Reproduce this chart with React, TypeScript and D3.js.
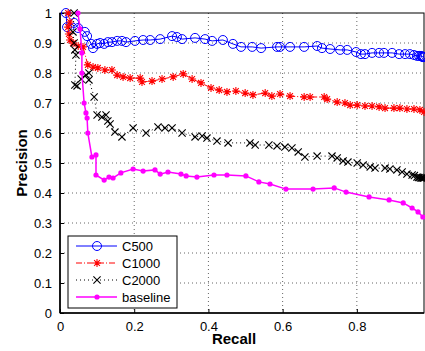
import { useRef, useEffect } from 'react';
import * as d3 from 'd3';

// recall / precision pairs
const c500: [number, number][] = [
  [0.016, 1.0], [0.019, 0.953], [0.038, 0.967], [0.049, 0.95], [0.067, 0.937], [0.073, 0.923],
  [0.084, 0.897], [0.089, 0.883], [0.1, 0.897], [0.108, 0.9], [0.119, 0.897], [0.129, 0.903],
  [0.14, 0.903], [0.154, 0.907], [0.167, 0.907], [0.178, 0.903], [0.202, 0.907], [0.224, 0.91],
  [0.243, 0.91], [0.27, 0.913], [0.302, 0.923], [0.315, 0.92], [0.329, 0.913], [0.364, 0.917],
  [0.391, 0.913], [0.41, 0.907], [0.439, 0.91], [0.466, 0.897], [0.488, 0.887], [0.518, 0.887],
  [0.542, 0.883], [0.585, 0.887], [0.593, 0.887], [0.62, 0.887], [0.658, 0.887], [0.693, 0.89],
  [0.706, 0.883], [0.728, 0.88], [0.755, 0.877], [0.774, 0.877], [0.798, 0.87], [0.811, 0.863],
  [0.822, 0.863], [0.841, 0.867], [0.86, 0.867], [0.873, 0.867], [0.895, 0.867], [0.914, 0.863],
  [0.93, 0.863], [0.943, 0.863], [0.954, 0.86], [0.962, 0.857], [0.968, 0.857], [0.973, 0.857],
  [0.975, 0.855], [0.977, 0.855], [0.978, 0.853], [0.98, 0.853], [0.981, 0.853],
];

const c1000: [number, number][] = [
  [0.022, 1.0], [0.027, 0.97], [0.022, 0.953], [0.024, 0.93], [0.027, 0.91], [0.035, 0.9],
  [0.049, 0.89], [0.062, 0.887], [0.075, 0.827], [0.089, 0.82], [0.102, 0.817], [0.121, 0.81],
  [0.14, 0.81], [0.154, 0.793], [0.17, 0.787], [0.189, 0.783], [0.216, 0.783], [0.221, 0.77],
  [0.248, 0.773], [0.275, 0.78], [0.305, 0.787], [0.332, 0.797], [0.356, 0.78], [0.38, 0.767],
  [0.407, 0.75], [0.429, 0.743], [0.45, 0.737], [0.474, 0.74], [0.499, 0.733], [0.52, 0.727],
  [0.553, 0.733], [0.571, 0.723], [0.593, 0.73], [0.62, 0.723], [0.658, 0.72], [0.674, 0.72],
  [0.712, 0.72], [0.72, 0.713], [0.747, 0.703], [0.768, 0.7], [0.782, 0.693], [0.801, 0.693],
  [0.822, 0.69], [0.841, 0.69], [0.86, 0.687], [0.876, 0.683], [0.9, 0.683], [0.916, 0.683],
  [0.935, 0.68], [0.954, 0.68], [0.97, 0.677], [0.981, 0.67],
];

const c2000: [number, number][] = [
  [0.038, 1.0], [0.035, 0.937], [0.038, 0.9], [0.04, 0.877], [0.043, 0.86], [0.04, 0.76],
  [0.046, 0.757], [0.057, 0.78], [0.07, 0.793], [0.078, 0.8], [0.078, 0.777], [0.092, 0.72],
  [0.1, 0.66], [0.113, 0.653], [0.124, 0.66], [0.129, 0.64], [0.135, 0.63], [0.148, 0.603],
  [0.167, 0.587], [0.197, 0.617], [0.232, 0.6], [0.264, 0.62], [0.283, 0.617], [0.302, 0.617],
  [0.329, 0.6], [0.364, 0.587], [0.383, 0.59], [0.396, 0.583], [0.423, 0.573], [0.453, 0.567],
  [0.512, 0.567], [0.526, 0.56], [0.563, 0.56], [0.585, 0.557], [0.606, 0.553], [0.625, 0.55],
  [0.642, 0.537], [0.66, 0.52], [0.693, 0.523], [0.733, 0.523], [0.747, 0.517], [0.763, 0.507],
  [0.776, 0.503], [0.801, 0.5], [0.817, 0.493], [0.836, 0.487], [0.849, 0.483], [0.876, 0.483],
  [0.889, 0.48], [0.908, 0.477], [0.922, 0.47], [0.935, 0.463], [0.949, 0.46], [0.955, 0.458],
  [0.962, 0.453], [0.966, 0.452], [0.97, 0.452], [0.973, 0.45], [0.976, 0.45], [0.979, 0.45],
  [0.981, 0.45],
];

const baseline: [number, number][] = [
  [0.0485, 1.0], [0.054, 0.947], [0.059, 0.867], [0.059, 0.8], [0.065, 0.7], [0.07, 0.667],
  [0.073, 0.65], [0.075, 0.6], [0.086, 0.52], [0.097, 0.527], [0.097, 0.46], [0.119, 0.443],
  [0.132, 0.453], [0.143, 0.45], [0.164, 0.467], [0.197, 0.48], [0.224, 0.473], [0.256, 0.477],
  [0.27, 0.463], [0.291, 0.47], [0.326, 0.463], [0.34, 0.457], [0.369, 0.453], [0.415, 0.46],
  [0.45, 0.46], [0.501, 0.457], [0.536, 0.437], [0.566, 0.43], [0.609, 0.413], [0.682, 0.413],
  [0.739, 0.417], [0.771, 0.403], [0.833, 0.387], [0.887, 0.377], [0.925, 0.367], [0.949, 0.35],
  [0.965, 0.337], [0.978, 0.32],
];

const xTicks = [0, 0.2, 0.4, 0.6, 0.8];
const yTicks = [0, 0.1, 0.2, 0.3, 0.4, 0.5, 0.6, 0.7, 0.8, 0.9, 1];
const seriesNames = ['C500', 'C1000', 'C2000', 'baseline'];

const FONT = '"Liberation Sans", Arial, Helvetica, sans-serif';

type Marker = 'circle' | 'star' | 'x' | 'dot';

export default function App() {
  const svgRef = useRef<SVGSVGElement>(null);

  useEffect(() => {
    if (!svgRef.current) return;
    const svg = d3.select(svgRef.current);
    svg.selectAll('*').remove();

    const width = 425;
    const height = 351;
    const margin = { top: 13, right: 1, bottom: 38, left: 60 };
    const innerWidth = width - margin.left - margin.right;
    const innerHeight = height - margin.top - margin.bottom;

    svg.attr('width', width).attr('height', height);
    const g = svg.append('g').attr('transform', `translate(${margin.left},${margin.top})`);

    const x = d3.scaleLinear().domain([0, 0.981]).range([0, innerWidth]);
    const y = d3.scaleLinear().domain([0, 1]).range([innerHeight, 0]);

    // dotted grid
    g.append('g')
      .selectAll('line')
      .data(xTicks.slice(1))
      .join('line')
      .attr('x1', (d) => x(d)).attr('x2', (d) => x(d))
      .attr('y1', 0).attr('y2', innerHeight)
      .attr('stroke', '#666').attr('stroke-width', 1).attr('stroke-dasharray', '1,3');
    g.append('g')
      .selectAll('line')
      .data(yTicks.slice(1, -1))
      .join('line')
      .attr('x1', 0).attr('x2', innerWidth)
      .attr('y1', (d) => y(d)).attr('y2', (d) => y(d))
      .attr('stroke', '#666').attr('stroke-width', 1).attr('stroke-dasharray', '1,3');

    // axes (inward ticks, matlab style)
    const xAxis = g.append('g')
      .attr('transform', `translate(0,${innerHeight})`)
      .call(d3.axisBottom(x).tickValues(xTicks).tickSize(-4).tickPadding(9).tickFormat(d3.format('~g')));
    const yAxis = g.append('g')
      .call(d3.axisLeft(y).tickValues(yTicks).tickSize(-4).tickPadding(8).tickFormat(d3.format('~g')));
    [xAxis, yAxis].forEach((a) => {
      a.select('.domain').remove();
      a.selectAll('text').attr('font-family', FONT).attr('font-size', 13).attr('fill', '#000');
      a.selectAll('line').attr('stroke', '#000');
    });

    // box
    g.append('rect')
      .attr('x', 0).attr('y', 0).attr('width', innerWidth).attr('height', innerHeight)
      .attr('fill', 'none').attr('stroke', '#000').attr('stroke-width', 1);
    g.append('line').attr('x1', 0).attr('x2', 0).attr('y1', 0).attr('y2', innerHeight)
      .attr('stroke', '#000').attr('stroke-width', 1.6);
    g.append('line').attr('x1', 0).attr('x2', innerWidth).attr('y1', innerHeight).attr('y2', innerHeight)
      .attr('stroke', '#000').attr('stroke-width', 1.6);

    // axis labels
    svg.append('text')
      .attr('x', margin.left + innerWidth / 2 - 8).attr('y', 344)
      .attr('text-anchor', 'middle').attr('font-family', FONT)
      .attr('font-size', 15).attr('font-weight', 'bold').text('Recall');
    svg.append('text')
      .attr('transform', `translate(27,${margin.top + innerHeight / 2}) rotate(-90)`)
      .attr('text-anchor', 'middle').attr('font-family', FONT)
      .attr('font-size', 15).attr('font-weight', 'bold').text('Precision');

    const markerPath = (m: Marker) => {
      if (m === 'star') {
        const s = 4, d = 2.9;
        return `M${-s},0H${s}M0,${-s}V${s}M${-d},${-d}L${d},${d}M${-d},${d}L${d},${-d}`;
      }
      if (m === 'x') {
        const s = 3.6;
        return `M${-s},${-s}L${s},${s}M${-s},${s}L${s},${-s}`;
      }
      return '';
    };

    const drawMarker = (sel: d3.Selection<SVGGElement, unknown, null, undefined>, m: Marker, color: string) => {
      if (m === 'circle') {
        sel.append('circle').attr('r', 4.5).attr('fill', 'none').attr('stroke', color).attr('stroke-width', 1);
      } else if (m === 'dot') {
        sel.append('circle').attr('r', 2.6).attr('fill', color);
      } else {
        sel.append('path').attr('d', markerPath(m)).attr('fill', 'none').attr('stroke', color).attr('stroke-width', 1.1);
      }
    };

    const line = d3.line<[number, number]>().x((d) => x(d[0])).y((d) => y(d[1]));

    const series: { data: [number, number][]; color: string; dash: string; width: number; marker: Marker }[] = [
      { data: c500, color: '#0000ff', dash: '', width: 1, marker: 'circle' },
      { data: c1000, color: '#ff0000', dash: '6,2,1,2', width: 1, marker: 'star' },
      { data: c2000, color: '#000000', dash: '1,3', width: 1, marker: 'x' },
      { data: baseline, color: '#ff00ff', dash: '', width: 1.5, marker: 'dot' },
    ];

    series.forEach((s) => {
      g.append('path')
        .datum(s.data)
        .attr('fill', 'none')
        .attr('stroke', s.color)
        .attr('stroke-width', s.width)
        .attr('stroke-dasharray', s.dash || null)
        .attr('d', line);
      s.data.forEach((d) => {
        const mg = g.append('g').attr('transform', `translate(${x(d[0])},${y(d[1])})`);
        drawMarker(mg, s.marker, s.color);
      });
    });

    // legend
    const legend = svg.append('g').attr('transform', 'translate(68,236)');
    legend.append('rect')
      .attr('x', 0).attr('y', 0).attr('width', 109).attr('height', 72)
      .attr('fill', '#fff').attr('stroke', '#000').attr('stroke-width', 1);
    series.forEach((s, i) => {
      const yy = 10 + i * 17;
      legend.append('line')
        .attr('x1', 8).attr('x2', 49).attr('y1', yy).attr('y2', yy)
        .attr('stroke', s.color).attr('stroke-width', s.width)
        .attr('stroke-dasharray', s.dash || null);
      const mg = legend.append('g').attr('transform', `translate(29,${yy})`);
      drawMarker(mg, s.marker, s.color);
      legend.append('text')
        .attr('x', 54).attr('y', yy + 5)
        .attr('font-family', FONT).attr('font-size', 13).attr('fill', '#000')
        .text(seriesNames[i]);
    });
  }, []);

  return (
    <svg
      ref={svgRef}
      style={{ position: 'absolute', left: 0, top: 0, background: '#fff' }}
    />
  );
}
